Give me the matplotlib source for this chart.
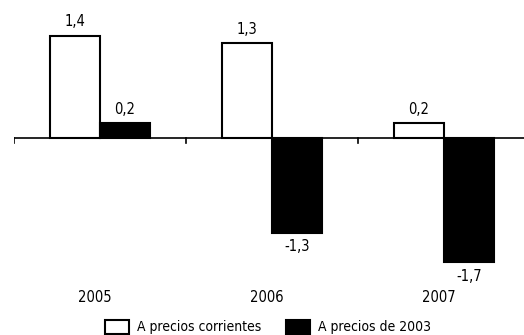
import matplotlib.pyplot as plt
import numpy as np
from matplotlib.patches import Patch

years = ['2005', '2006', '2007']
corrientes = [1.4, 1.3, 0.2]
precios_2003 = [0.2, -1.3, -1.7]
corrientes_labels = ['1,4', '1,3', '0,2']
precios_labels = ['0,2', '-1,3', '-1,7']

plt.rcParams['font.family'] = ['DejaVu Sans']
plt.rcParams['font.stretch'] = 'condensed'

W, H = 524, 335
fig = plt.figure(figsize=(W / 100, H / 100), dpi=100)

# axes in pixel terms: x 14..530, y 10..270, zero line at y=138
px_per_unit = 73.0
ax_top, ax_bot = 10, 270
zero_y = 138
ax = fig.add_axes([14 / W, 1 - ax_bot / H, 516 / W, (ax_bot - ax_top) / H])
ax.set_xlim(-0.5, 2.5)
ax.set_ylim(-(ax_bot - zero_y) / px_per_unit, (zero_y - ax_top) / px_per_unit)

x = np.arange(len(years))
bw = 50 / 172
ax.bar(x - bw / 2, corrientes, bw, color='white', edgecolor='black', linewidth=1.5)
ax.bar(x + bw / 2, precios_2003, bw, color='black', edgecolor='black', linewidth=1.5)

for xi, v, lab in zip(x - bw / 2, corrientes, corrientes_labels):
    ax.text(xi, v + 0.09 if v >= 0 else v - 0.09, lab, ha='center',
            va='bottom' if v >= 0 else 'top', fontsize=10.5)
for xi, v, lab in zip(x + bw / 2, precios_2003, precios_labels):
    ax.text(xi, v + 0.09 if v >= 0 else v - 0.09, lab, ha='center',
            va='bottom' if v >= 0 else 'top', fontsize=10.5)

# zero axis line with separators
ax.axhline(0, color='black', linewidth=1.2)
for b in [-0.5, 0.5, 1.5]:
    ax.plot([b, b], [0, -5 / px_per_unit], color='black', linewidth=1.2)

for s in ax.spines.values():
    s.set_visible(False)
ax.set_xticks([])
ax.set_yticks([])

for xi, yr in zip(x, years):
    fig.text((14 + (xi + 0.5) * 172 - 5) / W, 1 - 298 / H, yr, ha='center', va='center', fontsize=10.5)

handles = [Patch(facecolor='white', edgecolor='black', linewidth=1.5, label='A precios corrientes'),
           Patch(facecolor='black', edgecolor='black', linewidth=1.5, label='A precios de 2003')]
fig.legend(handles=handles, loc='center', bbox_to_anchor=(268 / W, 1 - 327 / H), ncol=2,
           frameon=False, fontsize=10, handlelength=1.7, handleheight=1.2,
           columnspacing=1.8, handletextpad=0.6)

fig.savefig('out.png', dpi=100)
